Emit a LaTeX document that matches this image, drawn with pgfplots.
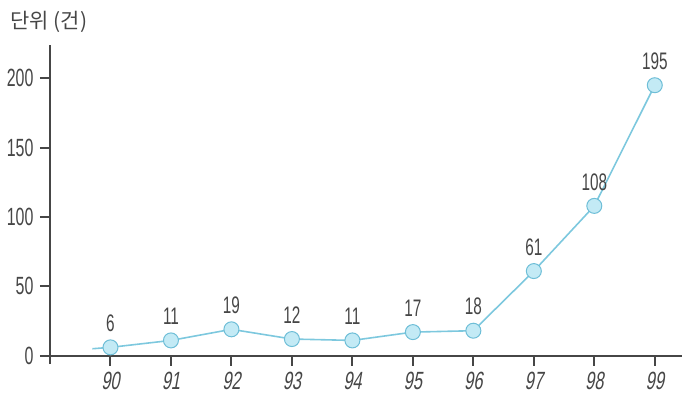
\documentclass[border=0pt]{standalone}
\usepackage{fontspec}
\usepackage{pgfplots}
\pgfplotsset{compat=1.18}
\setmainfont{Liberation Sans}[FakeStretch=0.64]
\newfontfamily\slfont{Liberation Sans}[FakeStretch=0.66,FakeSlant=0.18]
\newfontfamily\kr{Noto Sans CJK KR}
\definecolor{axisgray}{RGB}{70,70,70}
\definecolor{linec}{RGB}{125,200,222}
\definecolor{markfill}{RGB}{195,234,245}
\definecolor{markedge}{RGB}{110,190,215}
\definecolor{txt}{RGB}{70,70,70}
\begin{document}
\begin{tikzpicture}
\path[use as bounding box] (-50bp,-31bp) rectangle (632bp,364bp);
\begin{axis}[
  at={(0,0)}, anchor=south west,
  scale only axis, width=632bp, height=319bp,
  xmin=89.0, xmax=99.45, ymin=-6, ymax=224,
  axis y line=left, axis x line=middle,
  axis line style={-, draw=axisgray, line width=2bp},
  every inner x axis line/.append style={-},
  every outer y axis line/.append style={-},
  xtick={90,91,...,99}, ytick={0,50,100,150,200},
  tick align=outside, major tick length=10bp,
  tick style={draw=axisgray, line width=2bp},
  /pgf/number format/assume math mode=true,
  xticklabel style={font=\slfont\fontsize{25}{25}\selectfont, text=txt, yshift=-3bp},
  yticklabel style={font=\fontsize{25}{25}\selectfont, text=txt, xshift=-3bp},
  clip=false,
]
\addplot[linec, line width=1.6bp, forget plot] coordinates {(89.7,5) (90,6)};
\addplot[linec, line width=1.6bp, mark=*, mark size=7.5bp,
  mark options={fill=markfill, draw=markedge, line width=1bp},
  nodes near coords, point meta=y,
  every node near coord/.append style={font=\fontsize{24}{24}\selectfont, text=txt, inner sep=0pt, yshift=15bp}]
  coordinates {(90,6) (91,11) (92,19) (93,12) (94,11) (95,17) (96,18) (97,61) (98,108) (99,195)};
\end{axis}
\node[anchor=west, font=\kr\fontsize{21}{21}\selectfont, text=txt] at (-43bp,342bp) {단위 (건)};
\end{tikzpicture}
\end{document}
